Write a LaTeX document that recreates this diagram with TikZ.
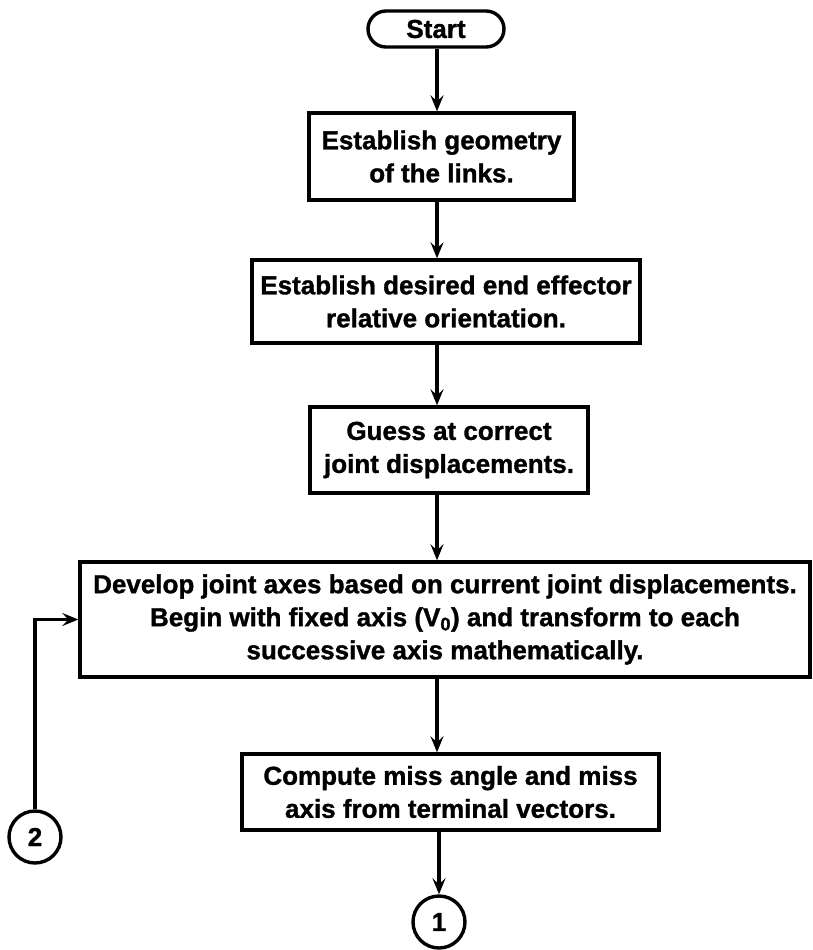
\documentclass[tikz,border=0pt]{standalone}
\usepackage{fontspec}
\setmainfont{Liberation Sans}[BoldFeatures={FakeBold=1.2}]
\usetikzlibrary{arrows.meta}
\begin{document}
\begin{tikzpicture}[x=1pt,y=-1pt,
  every node/.style={font=\fontsize{26}{33}\selectfont\bfseries},
  stepbox/.style={draw, line width=3.4pt, inner sep=0pt, align=center},
  termbox/.style={draw, line width=3.4pt, inner sep=0pt, rounded corners=18pt, minimum width=136pt, minimum height=36pt},
  conn/.style={draw, circle, line width=3.4pt, inner sep=0pt, minimum size=52pt},
  arr/.style={line width=3.4pt, -{Stealth[length=16pt,width=13pt,inset=6pt]}}
]
\useasboundingbox (0,0) rectangle (812,950);
\fill[white] (0,0) rectangle (812,950);
\coordinate (col) at (437,0);
\node[termbox] (start) at (436,29) {Start};
\node[stepbox, minimum width=265pt, minimum height=87pt] (b1) at (441.5,156.5) {Establish geometry\\of the links.};
\node[stepbox, minimum width=388pt, minimum height=83pt] (b2) at (446,301.5) {Establish desired end effector\\relative orientation.};
\node[stepbox, minimum width=278pt, minimum height=86pt] (b3) at (449,450) {Guess at correct\\joint displacements.};
\node[stepbox, minimum width=730pt, minimum height=115pt] (b4) at (445,619.5) {Develop joint axes based on current joint displacements.\\Begin with fixed axis (V\textsubscript{0}) and transform to each\\successive axis mathematically.};
\node[stepbox, minimum width=417pt, minimum height=76pt] (b5) at (450.5,792) {Compute miss angle and miss\\axis from terminal vectors.};
\node[conn] (c1) at (439,922) {1};
\node[conn] (c2) at (35,837) {2};
\draw[arr] (start.south -| col) -- (b1.north -| col);
\draw[arr] (b1.south -| col) -- (b2.north -| col);
\draw[arr] (b2.south -| col) -- (b3.north -| col);
\draw[arr] (b3.south -| col) -- (b4.north -| col);
\draw[arr] (b4.south -| col) -- (b5.north -| col);
\draw[arr] (b5.south -| c1) -- (c1.north);
\draw[arr] (c2.north) |- (b4.west);
\end{tikzpicture}
\end{document}
